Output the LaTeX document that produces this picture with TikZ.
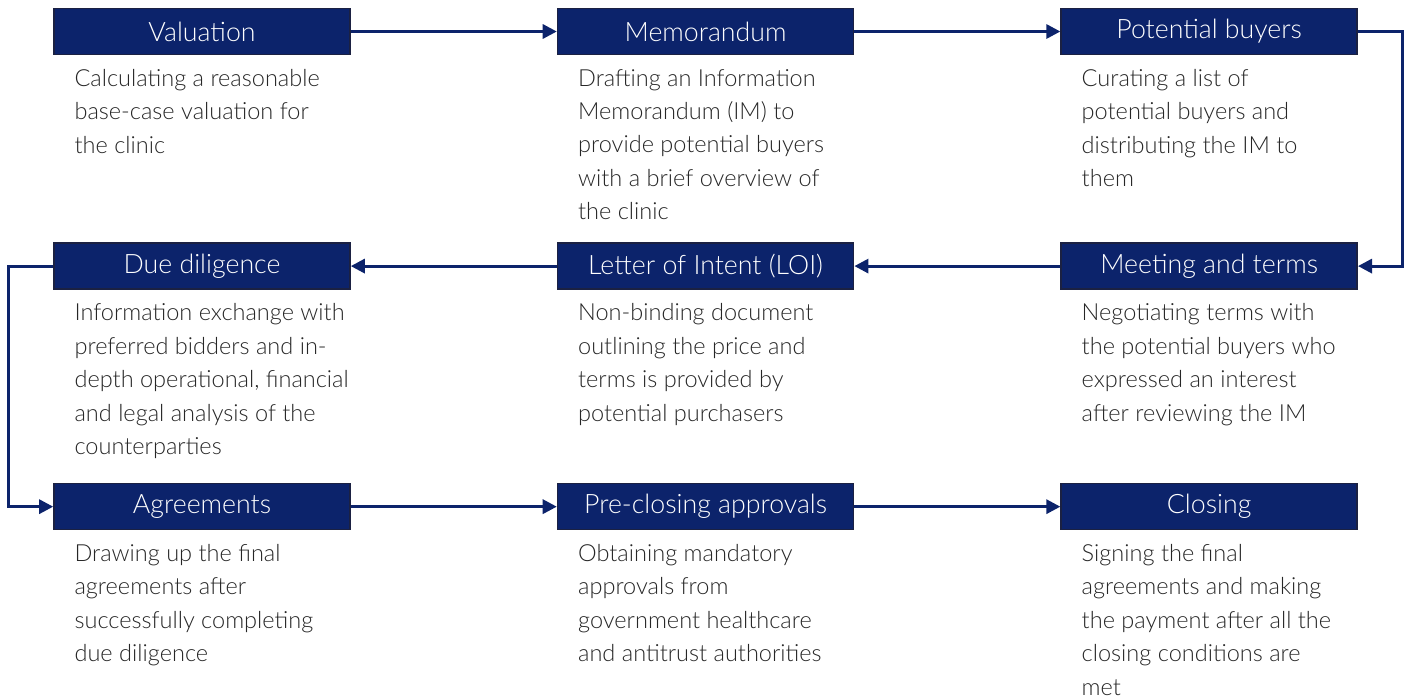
\documentclass[tikz,border=0pt]{standalone}
\usepackage{fontspec}
\setmainfont{Lato}[UprightFont=* Light]
\usepackage{xcolor}
\definecolor{dealNavy}{HTML}{0C236B}
\definecolor{dealBorder}{HTML}{1B2142}
\definecolor{dealText}{HTML}{262626}
\usetikzlibrary{arrows.meta,positioning,calc}
\tikzset{
    stage/.style={
        draw=dealBorder,
        fill=dealNavy,
        rectangle,
        line width=0.9pt,
        minimum height=0.92cm,
        minimum width=5.92cm,
        inner sep=0pt,
        text=white,
        font=\fontsize{15.2}{17}\selectfont
    },
    desc/.style={
        anchor=north west,
        align=left,
        inner sep=0pt,
        text=dealText,
        font=\fontsize{13.4}{19}\selectfont
    },
    flow/.style={
        -{Triangle[length=8pt,width=8pt]},
        line width=1.7pt,
        color=dealNavy
    }
}

\begin{document}
\begin{tikzpicture}[node distance=3.74cm and 4.12cm]
    \useasboundingbox (0,0) rectangle (28.24,-13.94);

    % Top row
    \node[stage] (val) at (4.04,-0.63) {Valuation};
    \node[stage, right=of val] (memo) {Memorandum};
    \node[stage, right=of memo] (buyers) {Potential buyers};

    % Middle row
    \node[stage, below=of buyers] (meet) {Meeting and terms};
    \node[stage, below=of memo] (loi) {Letter of Intent (LOI)};
    \node[stage, below=of val] (dd) {Due diligence};

    % Bottom row
    \node[stage, below=3.86cm of dd] (agree) {Agreements};
    \node[stage, below=3.86cm of loi] (preclose) {Pre-closing approvals};
    \node[stage, below=3.86cm of meet] (close) {Closing};

    % Descriptions
    \node[desc] (valtxt) at ($(val.south west)+(0.42,-0.27)$)
        {Calculating a reasonable\\base-case valuation for\\the clinic};
    \node[desc] (memotxt) at ($(memo.south west)+(0.42,-0.27)$)
        {Drafting an Information\\Memorandum (IM) to\\provide potential buyers\\with a brief overview of\\the clinic};
    \node[desc] (buyerstxt) at ($(buyers.south west)+(0.42,-0.27)$)
        {Curating a list of\\potential buyers and\\distributing the IM to\\them};
    \node[desc] (meettxt) at ($(meet.south west)+(0.42,-0.27)$)
        {Negotiating terms with\\the potential buyers who\\expressed an interest\\after reviewing the IM};
    \node[desc] (loitxt) at ($(loi.south west)+(0.42,-0.27)$)
        {Non-binding document\\outlining the price and\\terms is provided by\\potential purchasers};
    \node[desc] (ddtxt) at ($(dd.south west)+(0.42,-0.27)$)
        {Information exchange with\\preferred bidders and in-\\depth operational, financial\\and legal analysis of the\\counterparties};
    \node[desc] (agreetxt) at ($(agree.south west)+(0.42,-0.27)$)
        {Drawing up the final\\agreements after\\successfully completing\\due diligence};
    \node[desc] (preclosetxt) at ($(preclose.south west)+(0.42,-0.27)$)
        {Obtaining mandatory\\approvals from\\government healthcare\\and antitrust authorities};
    \node[desc] (closetxt) at ($(close.south west)+(0.42,-0.27)$)
        {Signing the final\\agreements and making\\the payment after all the\\closing conditions are\\met};

    % Connections
    \draw[flow] (val) -- (memo);
    \draw[flow] (memo) -- (buyers);
    \draw[flow] (buyers.east) -- ++(0.9,0) |- (meet.east);
    \draw[flow] (meet) -- (loi);
    \draw[flow] (loi) -- (dd);
    \draw[flow] (dd.west) -- ++(-0.9,0) |- (agree.west);
    \draw[flow] (agree) -- (preclose);
    \draw[flow] (preclose) -- (close);
\end{tikzpicture}
\end{document}
